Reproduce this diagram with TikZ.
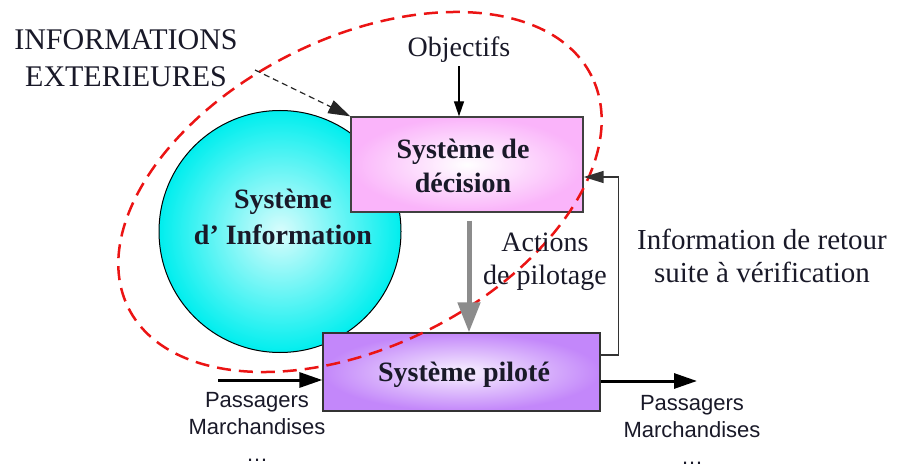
\documentclass[tikz,border=0pt]{standalone}
\usepackage{fontspec}
\setmainfont{Liberation Serif}
\newfontfamily\arialf{Liberation Sans}
\usetikzlibrary{arrows.meta,calc}
\definecolor{pinkbox}{RGB}{250,180,250}
\definecolor{violbox}{RGB}{195,135,250}
\definecolor{cyanball}{RGB}{0,238,238}
\definecolor{redline}{RGB}{235,20,20}
\definecolor{txtcol}{RGB}{25,25,40}
\begin{document}
\begin{tikzpicture}[x=1pt,y=1pt,
  txt/.style={font=\fontsize{29}{33}\selectfont, align=center, inner sep=0pt, text=txtcol},
  boldtxt/.style={font=\bfseries\fontsize{28}{34}\selectfont, align=center, inner sep=0pt, text=txtcol},
  sanstxt/.style={font=\arialf\fontsize{22}{27}\selectfont, align=center, inner sep=0pt, text=txtcol},
  decbox/.style={draw=black!75, line width=1.3pt, minimum width=232pt, minimum height=95pt, inner sep=0pt, inner color=white, outer color=pinkbox},
  pilbox/.style={draw=black!80, line width=1.3pt, minimum width=277pt, minimum height=78pt, inner sep=0pt, inner color=violbox!12, outer color=violbox},
  ball/.style={circle, draw=black, line width=1pt, minimum size=242pt, inner sep=0pt, inner color=cyanball!15, outer color=cyanball},
  ellip/.style={draw=redline, line width=2.5pt, dash pattern=on 14pt off 8pt},
  thinarrow/.style={draw=black, line width=1.3pt, -{Triangle[length=15pt,width=10pt]}},
  fbarrow/.style={draw=black!80, line width=1.4pt, -{Triangle[length=20pt,width=12pt]}},
  dasharrow/.style={draw=black!85, line width=1.2pt, dash pattern=on 6pt off 4pt, -{Triangle[length=22pt,width=14pt]}},
  grayarrow/.style={draw=black!45, line width=5pt, -{Triangle[length=30pt,width=22pt]}},
  flowarrow/.style={draw=black, line width=3pt, -{Triangle[length=23pt,width=15pt]}}
]
\useasboundingbox (0,0) rectangle (903,-465);

% Information system ball
\node[ball] (si) at (280,-231.5) {};
\node[boldtxt, font=\bfseries\fontsize{28}{36}\selectfont] (sitext) at (283,-217) {Système\\d’ Information};

% Boxes
\node[decbox] (dec) at (467,-164.5) {};
\node[boldtxt] (dectext) at (463,-166) {Système de\\décision};
\node[pilbox] (pil) at (461.5,-372) {};
\node[boldtxt] (piltext) at (464,-375) {Système piloté};

% red dashed boundary
\coordinate (ec) at (360,-192);
\draw[ellip, rotate around={26.6:(ec)}] (ec) ellipse [x radius=259, y radius=154];

% texts
\node[txt, font=\fontsize{30}{37}\selectfont] (ext) at (126,-58) {INFORMATIONS\\EXTERIEURES};
\node[txt, font=\fontsize{28}{33}\selectfont] (obj) at (459,-50) {Objectifs};
\node[txt, font=\fontsize{28}{33}\selectfont] (act) at (545,-262) {Actions\\de pilotage};
\node[txt] (ret) at (762,-256) {Information de retour\\suite à vérification};
\node[sanstxt, anchor=north] (pin) at (257,-392) {Passagers\\Marchandises\\\ldots};
\node[sanstxt, anchor=north] (pout) at (692,-395) {Passagers\\Marchandises\\\ldots};

% connectors
\coordinate (extend) at (255,-70);
\draw[dasharrow] (extend) -- (dec.north west);
\draw[thinarrow] ([yshift=-3pt]obj.south) -- (obj.south |- dec.north);
\draw[grayarrow, shorten <=8pt] ([xshift=2pt]dec.south) -- ([xshift=2pt]dec.south |- pil.north);
\draw[fbarrow] ([yshift=17pt]pil.east) -- ++(18pt,0) |- ([yshift=-12.5pt]dec.east);
\coordinate (inarr) at (218,-380);
\draw[flowarrow] (inarr) -- (pil.west |- inarr);
\coordinate (outarr) at (697,-381);
\draw[flowarrow] (pil.east |- outarr) -- (outarr);
\end{tikzpicture}
\end{document}
